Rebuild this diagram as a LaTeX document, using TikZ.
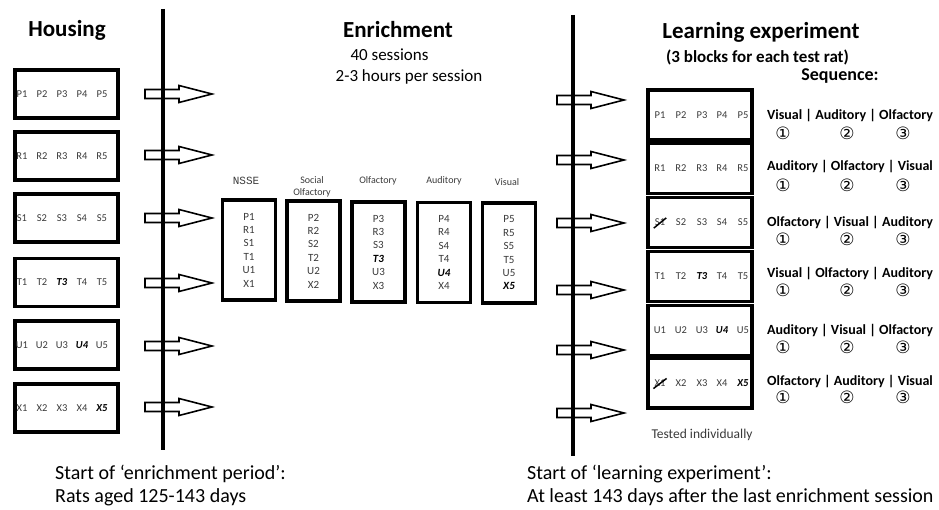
\documentclass[tikz,border=0pt]{standalone}
\usepackage{fontspec}
\setmainfont{Carlito}
\newfontfamily\symfont{DejaVu Sans}
\newfontfamily\courfont{Liberation Mono}
\definecolor{itemgrey}{HTML}{3A3A3A}
\begin{document}
\begin{tikzpicture}[x=1pt,y=-1pt,
  cage/.style={draw, line width=3.5pt, minimum width=103pt, minimum height=48pt, inner sep=0pt},
  tcage/.style={draw, line width=3.5pt, minimum width=104pt, minimum height=50pt, inner sep=0pt},
  group/.style={draw, line width=3.5pt, minimum width=53pt, minimum height=100pt, inner sep=0pt,
    align=center, font=\fontsize{11}{13.4}\selectfont, text=itemgrey},
  rat/.style={font=\fontsize{10.5}{12}\selectfont, text=itemgrey, inner sep=0pt},
  keyrat/.style={rat, fill=white, font=\fontsize{10.5}{12}\selectfont\bfseries\itshape, text=black},
  grplabel/.style={font=\fontsize{10}{12}\selectfont, text=itemgrey, align=center, inner sep=0pt},
  heading/.style={font=\fontsize{23}{26}\selectfont\bfseries, inner sep=0pt},
  subline/.style={font=\fontsize{17}{20}\selectfont, inner sep=0pt},
  seqtext/.style={font=\fontsize{14}{17}\selectfont\bfseries, inner sep=0pt},
  circnum/.style={font=\fontsize{17}{19}\selectfont\symfont, inner sep=0pt},
  foot/.style={font=\fontsize{20}{24}\selectfont, anchor=west, inner sep=0pt},
  blockarrow/.pic={\draw[line width=1.6pt, fill=white, line join=miter]
    (0,-4.5) -- (34,-4.5) -- (34,-8.5) -- (67,0) -- (34,8.5) -- (34,4.5) -- (0,4.5) -- cycle;}
]
\useasboundingbox (0,0) rectangle (939,510);

% ---------- Housing ----------
\node[heading] (housing) at (67,30) {Housing};
\foreach \row/\yc in {P/94,R/156,S/218,T/282.5,U/345,X/408}{
  \node[cage] (h\row) at (66.5,\yc) {};
}
\foreach \row in {P,R,S,T,U,X}{
  \foreach \i/\xc in {1/22,2/42,3/62,4/82,5/102}{
    \node[rat] (h\row\i) at ([xshift=\xc pt - 66.5pt]h\row.center) {\row\i};
  }
}
% bold italic highlights drawn over the plain labels
\node[keyrat] at (hT3) {T3};
\node[keyrat] at (hU4) {U4};
\node[keyrat] at (hX5) {X5};

% arrows leaving the housing timeline
\foreach \yc in {94,155,218,283,346,407}{
  \pic at (145,\yc) {blockarrow};
}
\draw[line width=4pt] (163,9) -- (163,450);

% ---------- Enrichment ----------
\node[heading] (enrich) at (398,30) {Enrichment};
\node[subline] (sessions) at (389.5,55) {40 sessions};
\node[subline] (hours) at (409,77) {2-3 hours per session};

\node[grplabel, font=\fontsize{11}{13}\selectfont\courfont] (lNSSE) at (246,181) {NSSE};
\node[grplabel] (lSoc) at (312,187) {Social\\Olfactory};
\node[grplabel] (lOlf) at (378,181) {Olfactory};
\node[grplabel] (lAud) at (444,181) {Auditory};
\node[grplabel] (lVis) at (507,182) {Visual};

\node[group] (gNSSE) at (249,250) {P1\\R1\\S1\\T1\\U1\\X1};
\node[group] (gSoc) at (313.5,251) {P2\\R2\\S2\\T2\\U2\\X2};
\node[group] (gOlf) at (378.5,252) {P3\\R3\\S3\\\textcolor{black}{\bfseries\itshape T3}\\U3\\X3};
\node[group] (gAud) at (444,252.5) {P4\\R4\\S4\\T4\\\textcolor{black}{\bfseries\itshape U4}\\X4};
\node[group] (gVis) at (509,253) {P5\\R5\\S5\\T5\\U5\\\textcolor{black}{\bfseries\itshape X5}};

% ---------- Learning experiment ----------
\node[heading] (learn) at (761,32) {Learning experiment};
\node[font=\fontsize{17}{20}\selectfont\bfseries, inner sep=0pt] (blocks) at (757.5,57) {(3 blocks for each test rat)};
\node[font=\fontsize{18}{21}\selectfont\bfseries, inner sep=0pt] (seq) at (840,76) {Sequence:};

\foreach \yc in {100,160,223,290,350,413}{
  \pic at (557,\yc) {blockarrow};
}
\draw[line width=4pt] (573,15) -- (573,456);

\foreach \row/\yc in {P/115,R/168.5,S/222.5,T/276.5,U/330.5,X/383}{
  \node[tcage] (t\row) at (700,\yc) {};
}
\foreach \row in {P,R,S,T,U,X}{
  \foreach \i/\xc in {1/660,2/681,3/702,4/722,5/743}{
    \node[rat] (t\row\i) at ([xshift=\xc pt - 700pt]t\row.center) {\row\i};
  }
}
\node[keyrat] at (tT3) {T3};
\node[keyrat] at (tU4) {U4};
\node[keyrat] at (tX5) {X5};
% excluded rats are struck through
\draw[line width=1.5pt] ([xshift=-1pt,yshift=-2pt]tS1.south west) -- ([xshift=1pt,yshift=1pt]tS1.north east);
\draw[line width=1.5pt] ([xshift=-1pt,yshift=-2pt]tX1.south west) -- ([xshift=1pt,yshift=1pt]tX1.north east);

\node[font=\fontsize{13.5}{16}\selectfont, text=itemgrey, inner sep=0pt] (tested) at (702,435) {Tested individually};

% test orders
\foreach \n/\yt/\yn/\txt in {
  1/116/133/{Visual | Auditory | Olfactory},
  2/167/185/{Auditory | Olfactory | Visual},
  3/223/239/{Olfactory | Visual | Auditory},
  4/274/290/{Visual | Olfactory | Auditory},
  5/331/347/{Auditory | Visual | Olfactory},
  6/382/397/{Olfactory | Auditory | Visual}}{
  \node[seqtext] (seq\n) at (850,\yt) {\txt};
  \node[circnum] (seq\n a) at (783,\yn) {①};
  \node[circnum] (seq\n b) at (847,\yn) {②};
  \node[circnum] (seq\n c) at (903,\yn) {③};
}

% ---------- footers ----------
\node[foot] (startE) at (55,474) {Start of ‘enrichment period’:};
\node[foot] (ages) at (55,497) {Rats aged 125-143 days};
\node[foot] (startL) at (527,474) {Start of ‘learning experiment’:};
\node[foot] (delay) at (527,497) {At least 143 days after the last enrichment session};
\end{tikzpicture}
\end{document}
